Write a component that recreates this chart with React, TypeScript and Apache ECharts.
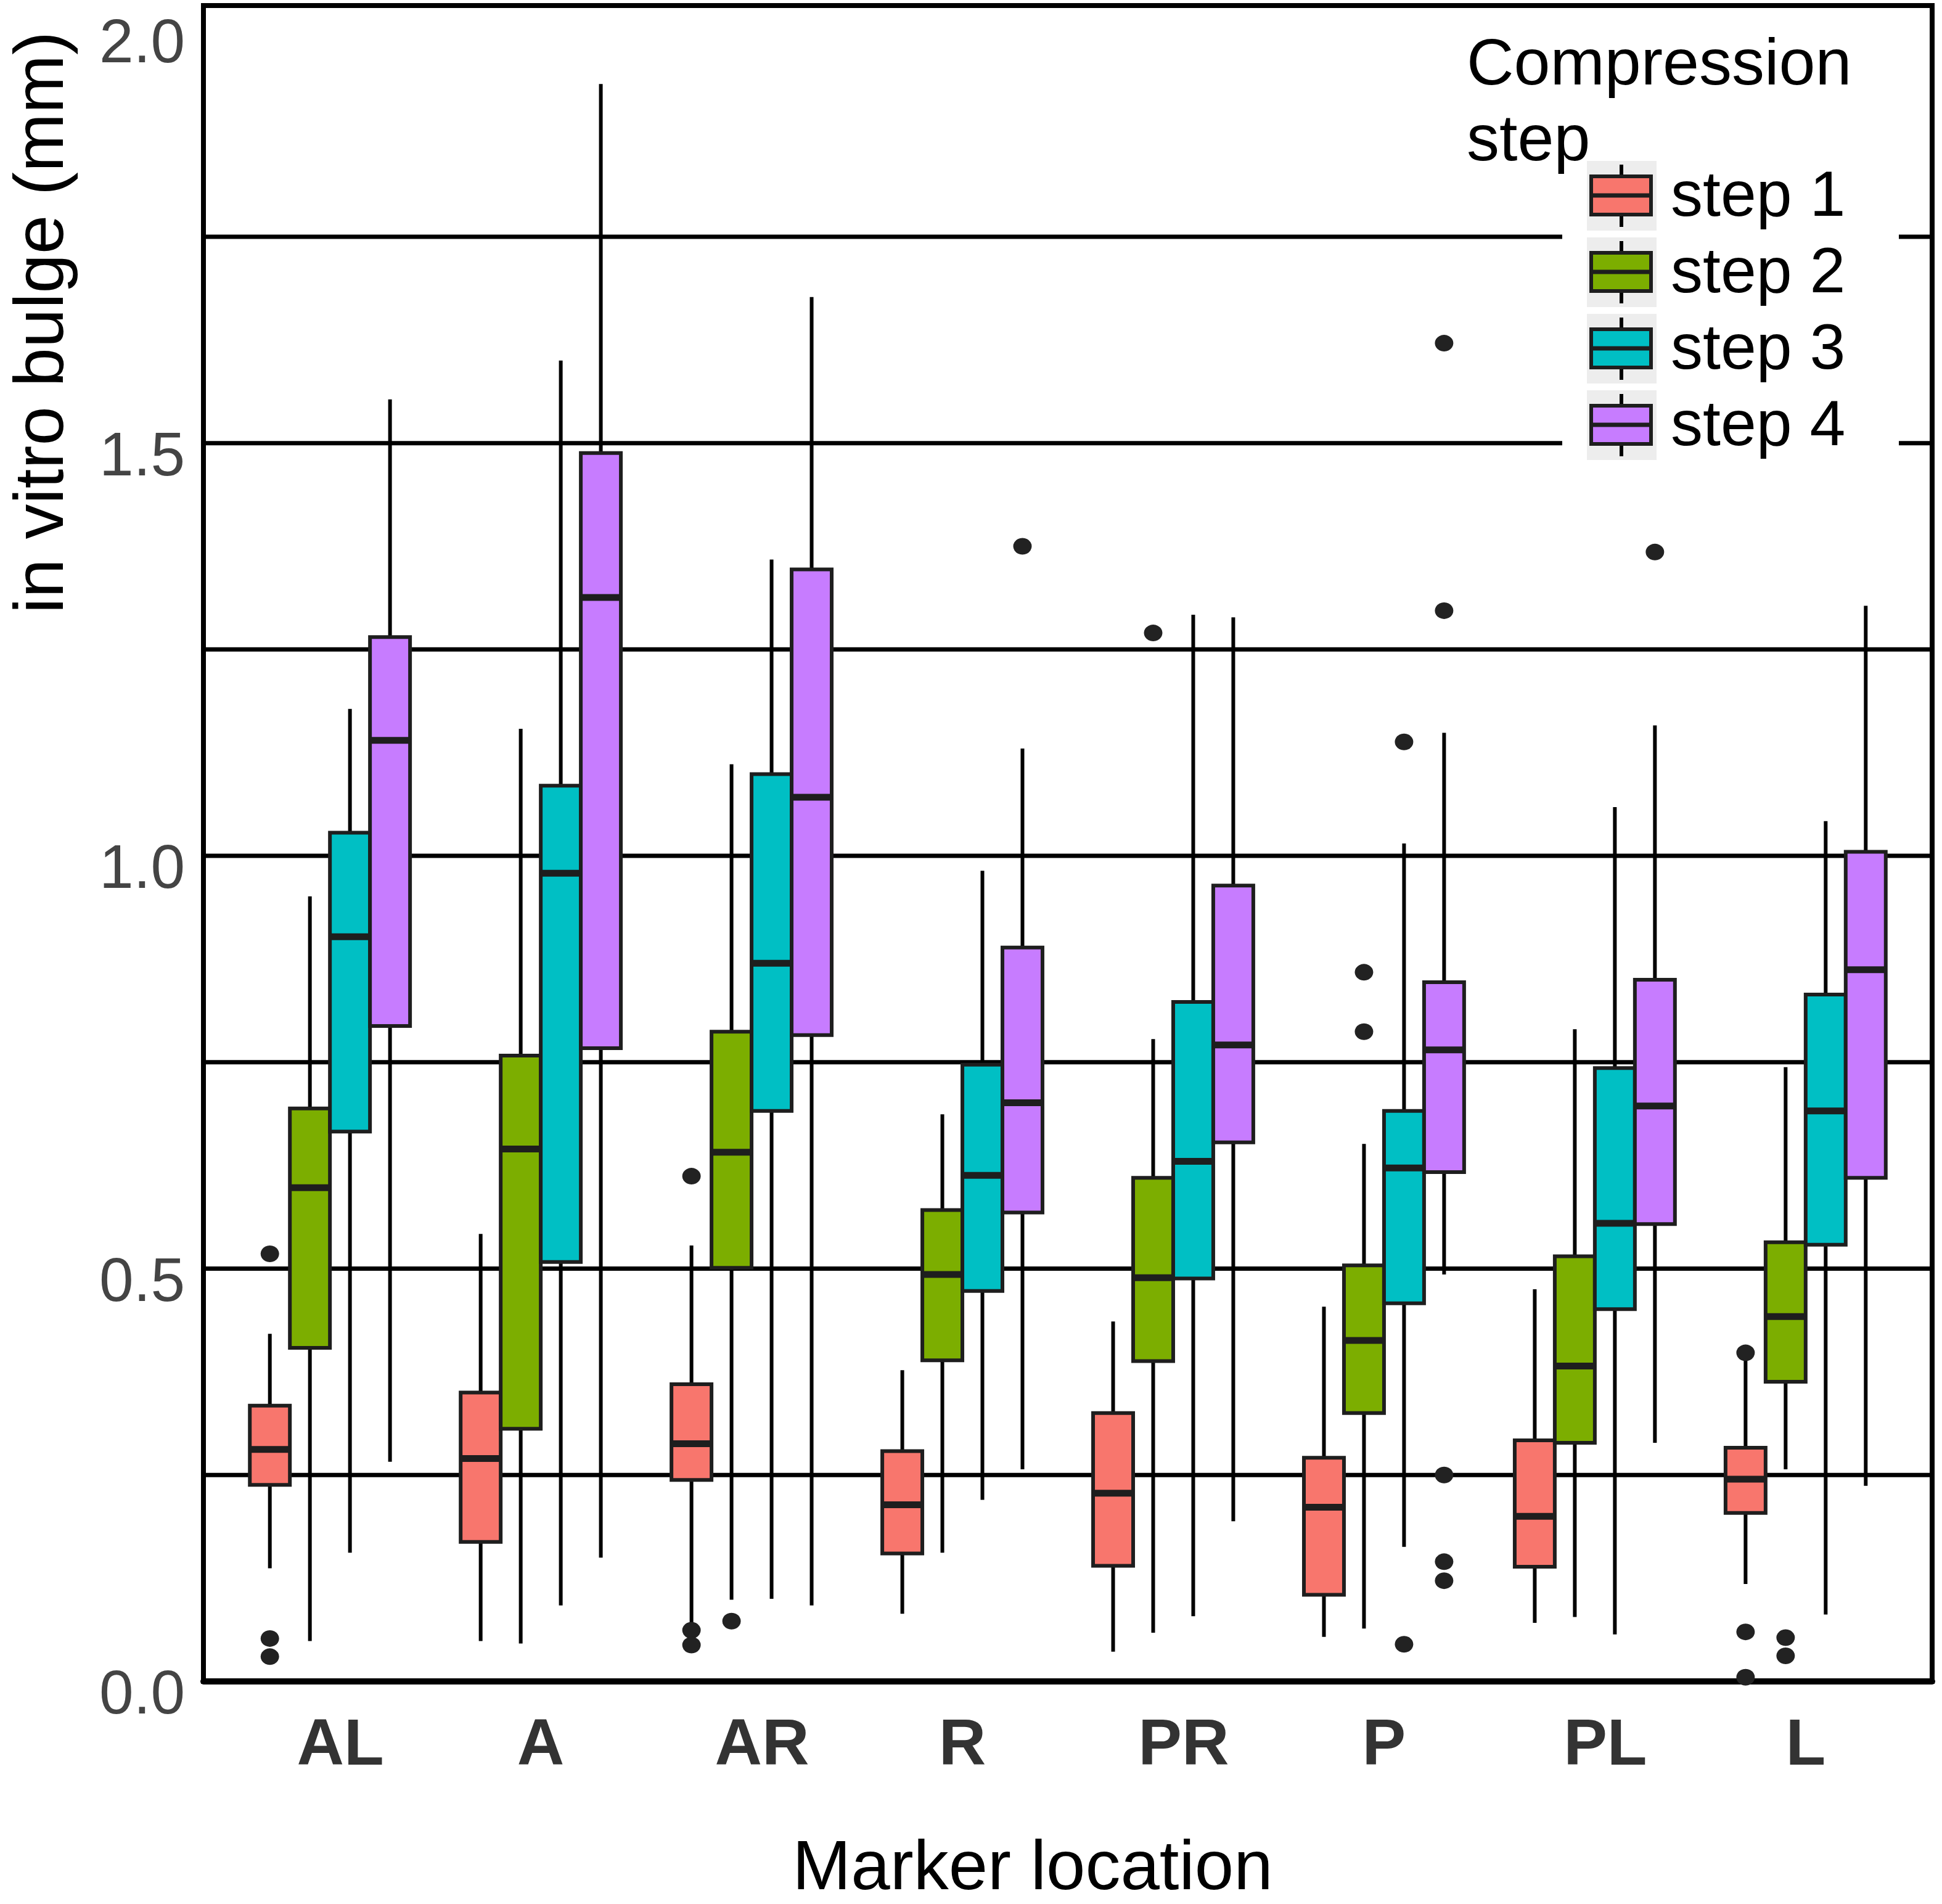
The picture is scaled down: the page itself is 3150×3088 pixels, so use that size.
import React, { useEffect, useRef } from "react";
import * as echarts from "echarts";

// ---------- data ----------
const CATEGORIES = ["AL", "A", "AR", "R", "PR", "P", "PL", "L"];
const STEPS = ["step 1", "step 2", "step 3", "step 4"];
const COLORS = ["#F8766D", "#7CAE00", "#00BFC4", "#C77CFF"];

// [low whisker, Q1, median, Q3, high whisker] per category
const STEP1_BOX = [
  [0.137, 0.238, 0.281, 0.334, 0.421],
  [0.049, 0.169, 0.270, 0.350, 0.542],
  [0.069, 0.244, 0.288, 0.360, 0.528],
  [0.082, 0.155, 0.214, 0.279, 0.377],
  [0.036, 0.140, 0.228, 0.325, 0.436],
  [0.054, 0.105, 0.211, 0.271, 0.454],
  [0.071, 0.139, 0.200, 0.292, 0.475],
  [0.118, 0.204, 0.245, 0.283, 0.390],
];
const STEP2_BOX = [
  [0.049, 0.404, 0.598, 0.694, 0.951],
  [0.046, 0.306, 0.645, 0.758, 1.154],
  [0.099, 0.501, 0.641, 0.787, 1.111],
  [0.156, 0.389, 0.493, 0.571, 0.687],
  [0.059, 0.388, 0.489, 0.610, 0.778],
  [0.064, 0.325, 0.413, 0.504, 0.651],
  [0.078, 0.289, 0.382, 0.515, 0.790],
  [0.257, 0.363, 0.442, 0.532, 0.744],
];
const STEP3_BOX = [
  [0.156, 0.666, 0.902, 1.028, 1.178],
  [0.092, 0.508, 0.979, 1.085, 1.600],
  [0.100, 0.691, 0.870, 1.099, 1.359],
  [0.220, 0.473, 0.613, 0.747, 0.982],
  [0.079, 0.488, 0.630, 0.823, 1.292],
  [0.163, 0.458, 0.622, 0.691, 1.015],
  [0.057, 0.451, 0.555, 0.743, 1.059],
  [0.081, 0.529, 0.691, 0.832, 1.042],
];
const STEP4_BOX = [
  [0.266, 0.794, 1.140, 1.265, 1.553],
  [0.150, 0.767, 1.313, 1.488, 1.935],
  [0.092, 0.783, 1.071, 1.347, 1.677],
  [0.257, 0.568, 0.701, 0.889, 1.130],
  [0.194, 0.653, 0.771, 0.964, 1.289],
  [0.493, 0.617, 0.765, 0.847, 1.149],
  [0.289, 0.554, 0.697, 0.850, 1.158],
  [0.237, 0.610, 0.862, 1.005, 1.303],
];

// outliers: [category, value]
const STEP1_OUTLIERS = [
  ["AL", 0.518], ["AL", 0.052], ["AL", 0.030],
  ["AR", 0.612], ["AR", 0.062], ["AR", 0.044],
  ["L", 0.398], ["L", 0.060], ["L", 0.005],
];
const STEP2_OUTLIERS = [
  ["AR", 0.073],
  ["PR", 1.270],
  ["P", 0.859], ["P", 0.787],
  ["L", 0.053], ["L", 0.031],
];
const STEP3_OUTLIERS = [
  ["P", 1.138], ["P", 0.045],
];
const STEP4_OUTLIERS = [
  ["R", 1.375],
  ["P", 1.621], ["P", 1.297], ["P", 0.250], ["P", 0.145], ["P", 0.122],
  ["PL", 1.368],
];

const Y_TICKS = [0, 0.5, 1.0, 1.5, 2.0];
const GRID_LINES = [0.25, 0.5, 0.75, 1.0, 1.25, 1.5, 1.75];

const X_TITLE = "Marker location";
const Y_TITLE = "in vitro bulge (mm)";
const LEGEND_TITLE = ["Compression", "step"];

// ---------- layout ----------
const FONT = "'Liberation Sans', Arial, Helvetica, sans-serif";
const DODGE = 0.19;
const GRID = { left: 330, top: 9, width: 2804, height: 2718 };
const TOP_Z = 100;

const BOXES = [STEP1_BOX, STEP2_BOX, STEP3_BOX, STEP4_BOX];
const OUTLIERS = [STEP1_OUTLIERS, STEP2_OUTLIERS, STEP3_OUTLIERS, STEP4_OUTLIERS];

function buildOption() {
  const series: any[] = [];

  series.push({
    type: "custom",
    name: "grid",
    silent: true,
    z: 1,
    clip: true,
    data: GRID_LINES.map((v) => [0.4, v]),
    encode: { x: 0, y: 1 },
    renderItem: (params: any, api: any) => {
      const cs = params.coordSys;
      const y = api.coord([api.value(0), api.value(1)])[1];
      return {
        type: "line",
        shape: { x1: cs.x, y1: y, x2: cs.x + cs.width, y2: y },
        style: { stroke: "#000", lineWidth: 7 },
      };
    },
  });

  BOXES.forEach((box, s) => {
    const offset = (s - 1.5) * DODGE;
    const color = COLORS[s];
    series.push({
      type: "custom",
      name: STEPS[s],
      silent: true,
      z: 3,
      clip: true,
      data: box.map((b, i) => [i + 1 + offset, ...b]),
      encode: { x: 0, y: [1, 2, 3, 4, 5] },
      renderItem: (params: any, api: any) => {
        const x = api.value(0);
        const cx = api.coord([x, api.value(3)])[0];
        const yLow = api.coord([x, api.value(1)])[1];
        const yQ1 = api.coord([x, api.value(2)])[1];
        const yMed = api.coord([x, api.value(3)])[1];
        const yQ3 = api.coord([x, api.value(4)])[1];
        const yHigh = api.coord([x, api.value(5)])[1];
        const w = api.size([DODGE, 0])[0];
        return {
          type: "group",
          children: [
            {
              type: "line",
              shape: { x1: cx, y1: yLow, x2: cx, y2: yHigh },
              style: { stroke: "#000", lineWidth: 6 },
            },
            {
              type: "rect",
              shape: { x: cx - w / 2, y: yQ3, width: w, height: yQ1 - yQ3 },
              style: { fill: color, stroke: "#1e1e1e", lineWidth: 6 },
            },
            {
              type: "line",
              shape: { x1: cx - w / 2, y1: yMed, x2: cx + w / 2, y2: yMed },
              style: { stroke: "#1e1e1e", lineWidth: 11 },
            },
          ],
        };
      },
    });
  });

  OUTLIERS.forEach((outs, s) => {
    const offset = (s - 1.5) * DODGE;
    series.push({
      type: "scatter",
      name: STEPS[s] + " outliers",
      silent: true,
      z: 4,
      clip: true,
      symbol: "circle",
      symbolSize: [30, 27],
      itemStyle: { color: "#222", opacity: 1 },
      data: outs.map(([c, v]) => [CATEGORIES.indexOf(c as string) + 1 + offset, v]),
    });
  });

  const legend: any[] = [];
  legend.push({
    type: "rect",
    z: TOP_Z,
    shape: { x: 2534, y: 20, width: 546, height: 740 },
    style: { fill: "#fff" },
  });
  legend.push({
    type: "text",
    z: TOP_Z + 1,
    x: 2379,
    y: 100,
    style: {
      text: LEGEND_TITLE[0],
      font: `106px ${FONT}`,
      fill: "#000",
      align: "left",
      verticalAlign: "middle",
    },
  });
  STEPS.forEach((label, i) => {
    const top = 261 + i * 124;
    const cy = top + 56;
    legend.push({
      type: "rect",
      z: TOP_Z + 1,
      shape: { x: 2574, y: top, width: 113, height: 113 },
      style: { fill: "#ededed" },
    });
    legend.push({
      type: "line",
      z: TOP_Z + 2,
      shape: { x1: 2630, y1: top + 6, x2: 2630, y2: top + 107 },
      style: { stroke: "#000", lineWidth: 6 },
    });
    legend.push({
      type: "rect",
      z: TOP_Z + 3,
      shape: { x: 2581, y: cy - 31, width: 97, height: 62 },
      style: { fill: COLORS[i], stroke: "#1e1e1e", lineWidth: 6 },
    });
    legend.push({
      type: "line",
      z: TOP_Z + 4,
      shape: { x1: 2581, y1: cy, x2: 2678, y2: cy },
      style: { stroke: "#1e1e1e", lineWidth: 7 },
    });
    legend.push({
      type: "text",
      z: TOP_Z + 4,
      x: 2710,
      y: top + 53,
      style: {
        text: label,
        font: `104px ${FONT}`,
        fill: "#000",
        align: "left",
        verticalAlign: "middle",
      },
    });
  });
  legend.push({
    type: "text",
    z: TOP_Z + 5,
    x: 2379,
    y: 223,
    style: {
      text: LEGEND_TITLE[1],
      font: `106px ${FONT}`,
      fill: "#000",
      align: "left",
      verticalAlign: "middle",
    },
  });

  return {
    animation: false,
    backgroundColor: "#fff",
    textStyle: { fontFamily: FONT },
    grid: {
      ...GRID,
      show: true,
      borderColor: "#000",
      borderWidth: 8,
      backgroundColor: "#fff",
      containLabel: false,
    },
    xAxis: {
      type: "value",
      min: 0.4,
      max: 8.6,
      splitLine: { show: false },
      axisTick: { show: false },
      axisLine: { show: true, onZero: false, lineStyle: { color: "#000", width: 10 } },
      axisLabel: {
        customValues: CATEGORIES.map((_, i) => i + 1),
        margin: 45,
        formatter: (v: number) => {
          const name = CATEGORIES[Math.round(v) - 1] || "";
          return name.length > 1 ? `{two|${name}}` : `{one|${name}}`;
        },
        rich: {
          two: {
            fontSize: 106,
            fontWeight: "bold",
            color: "#333",
            fontFamily: FONT,
            padding: [0, 0, 0, 34],
          },
          one: {
            fontSize: 106,
            fontWeight: "bold",
            color: "#333",
            fontFamily: FONT,
          },
        },
      },
    },
    yAxis: {
      type: "value",
      min: 0,
      max: 2.03,
      splitLine: { show: false },
      axisTick: { show: false },
      axisLine: { show: false },
      axisLabel: {
        customValues: Y_TICKS,
        formatter: (v: number) => `{t|${v.toFixed(1)}}`,
        margin: 30,
        rich: {
          t: {
            fontSize: 100,
            color: "#444",
            fontFamily: FONT,
            padding: [34, 0, 0, 0],
          },
        },
      },
    },
    graphic: [
      {
        type: "text",
        x: 1675,
        y: 3024,
        z: TOP_Z,
        style: {
          text: X_TITLE,
          font: `114px ${FONT}`,
          fill: "#000",
          align: "center",
          verticalAlign: "middle",
        },
      },
      {
        type: "text",
        x: 62,
        y: 523,
        rotation: Math.PI / 2,
        z: TOP_Z,
        style: {
          text: Y_TITLE,
          font: `114px ${FONT}`,
          fill: "#000",
          align: "center",
          verticalAlign: "middle",
        },
      },
      ...legend,
    ],
    series,
  };
}

export default function App() {
  const ref = useRef<HTMLDivElement>(null);
  useEffect(() => {
    if (!ref.current) return;
    const chart = echarts.init(ref.current, undefined, { renderer: "svg" });
    chart.setOption(buildOption() as any);
    return () => chart.dispose();
  }, []);
  return (
    <div
      ref={ref}
      style={{ position: "absolute", left: 0, top: 0, width: 3150, height: 3088, background: "#fff" }}
    />
  );
}
